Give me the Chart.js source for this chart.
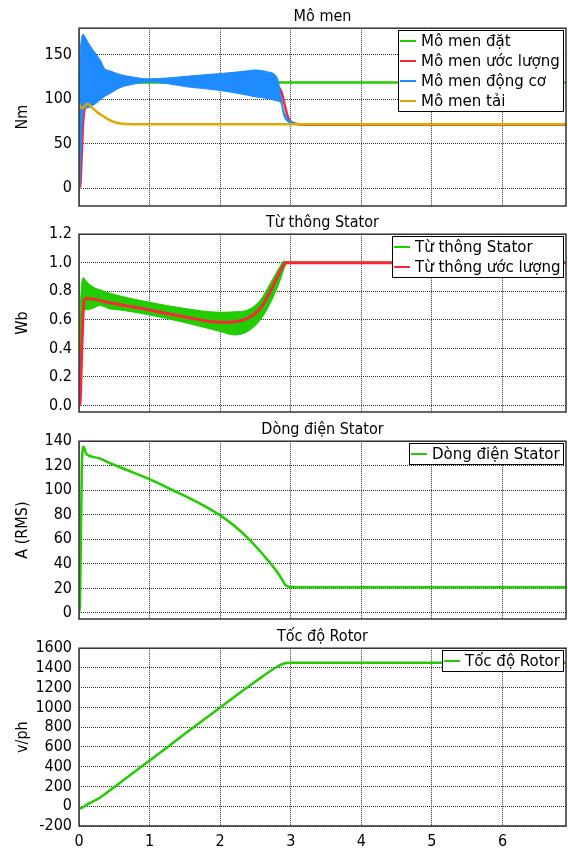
<!DOCTYPE html>
<html><head><meta charset="utf-8">
<script src="https://cdn.jsdelivr.net/npm/chart.js@4.4.1/dist/chart.umd.min.js"></script>
<style>
html,body{margin:0;padding:0;background:#fff;}
#wrap{position:relative;width:568px;height:850px;background:#fff;overflow:hidden;}
canvas{position:absolute;left:0;}
</style></head><body>
<div id="wrap">
<canvas id="c1" width="568" height="208" style="top:0px"></canvas>
<canvas id="c2" width="568" height="208" style="top:206px"></canvas>
<canvas id="c3" width="568" height="208" style="top:413px"></canvas>
<canvas id="c4" width="568" height="230" style="top:620px"></canvas>
</div>
<script>
// ---------- data ----------
const xTicks = [0, 1, 2, 3, 4, 5, 6];

// Panel 1: Mô men
const torqueTicks = [0, 50, 100, 150];
const torqueSetT = [0, 6.9];
const torqueSet = [119, 119];
const motorT     = [0, 0.01, 0.03, 0.06, 0.1, 0.16, 0.25, 0.31, 0.36, 0.44, 0.58, 0.77, 1.0, 1.25, 1.53, 2.0, 2.39, 2.48, 2.67, 2.81, 2.86, 2.9, 2.95, 3.04, 3.2, 6.9];
const motorUpper = [0, 120, 165, 173, 168, 160, 150, 143, 135, 132, 128, 125, 123, 124, 126, 129, 132, 133, 131, 124, 105, 88, 79, 74, 72.5, 72.5];
const motorLower = [0, 0, 40, 88, 90, 91.5, 96, 100, 103, 106.5, 113, 117, 119.4, 117.6, 114, 110, 104.6, 103, 101, 98, 96, 82, 75, 73, 72.5, 72.5];
const torqueEstT = [0, 0.02, 0.04, 0.06, 0.08, 0.15, 0.5, 1.0, 2.0, 2.8, 2.87, 2.92, 2.96, 3.0, 3.1, 3.3, 6.9];
const torqueEst  = [0, 5, 40, 75, 90, 110, 120, 121, 119, 115, 108, 92, 80, 75, 72, 71.3, 71.3];
const loadT = [0, 0.04, 0.08, 0.12, 0.18, 0.25, 0.32, 0.39, 0.46, 0.53, 0.67, 0.9, 6.9];
const load  = [94.5, 90, 92, 95, 91, 86, 82, 78.6, 75.8, 73.7, 72.3, 72, 72];

// Panel 2: Từ thông Stator
const fluxTicks = [0, 0.2, 0.4, 0.6, 0.8, 1.0, 1.2];
const fluxT     = [0, 0.01, 0.03, 0.06, 0.11, 0.2, 0.3, 0.44, 0.58, 1.0, 1.48, 2.0, 2.2, 2.39, 2.57, 2.71, 2.86, 2.9, 2.95, 6.9];
const fluxUpper = [0, 0.5, 0.8, 0.895, 0.867, 0.83, 0.81, 0.786, 0.767, 0.723, 0.681, 0.653, 0.656, 0.669, 0.739, 0.856, 0.984, 1.012, 1.005, 1.005];
const fluxLower = [0, 0, 0.45, 0.67, 0.67, 0.681, 0.70, 0.676, 0.669, 0.634, 0.583, 0.518, 0.494, 0.518, 0.60, 0.716, 0.89, 0.95, 0.995, 0.995];
const fluxEstT = [0, 0.015, 0.04, 0.07, 0.1, 0.2, 0.44, 1.0, 1.48, 2.0, 2.2, 2.39, 2.57, 2.71, 2.86, 2.93, 6.9];
const fluxEst  = [0, 0.02, 0.4, 0.73, 0.75, 0.745, 0.72, 0.669, 0.622, 0.583, 0.587, 0.611, 0.681, 0.80, 0.949, 1.0, 1.0];

// Panel 3: Dòng điện Stator
const currentTicks = [0, 20, 40, 60, 80, 100, 120, 140];
const currentT = [0, 0.015, 0.04, 0.065, 0.1, 0.15, 0.29, 0.44, 0.68, 1.0, 1.33, 1.6, 1.8, 2.0, 2.2, 2.4, 2.6, 2.8, 2.88, 2.92, 2.97, 3.05, 6.9];
const current  = [0, 10, 120, 135.5, 130, 128, 126, 122, 116.5, 109, 100, 92.5, 86.5, 79.5, 71, 60.5, 48, 34, 27, 23, 21.3, 20.9, 20.8];

// Panel 4: Tốc độ Rotor
const speedTicks = [-200, 0, 200, 400, 600, 800, 1000, 1200, 1400, 1600];
const speedT = [0, 0.03, 0.11, 0.29, 0.52, 1.0, 1.5, 2.0, 2.5, 2.8, 2.9, 3.0, 6.9];
const speed  = [-16, -20, 17, 84, 205, 462, 733, 1000, 1262, 1410, 1445, 1452, 1452];

// ---------- style ----------
const FONT = "'DejaVu Sans Condensed', 'DejaVu Sans', sans-serif";
const GREEN = '#22cc00', RED = '#f8283a', BLUE = '#1e8cff', GOLD = '#ddaa00';

const pts = (t, v) => t.map((x, i) => ({x, y: v[i]}));

const framePlugin = {
  id: 'frame',
  afterDatasetsDraw(chart) {
    const {ctx, chartArea: a} = chart;
    ctx.save();
    ctx.strokeStyle = '#333';
    ctx.lineWidth = 1.5;
    ctx.strokeRect(a.left, a.top, a.right - a.left, a.bottom - a.top);
    ctx.restore();
  }
};

const boxLegend = {
  id: 'boxLegend',
  afterDraw(chart, args, opts) {
    const items = opts.items;
    if (!items) return;
    const ctx = chart.ctx, a = chart.chartArea;
    ctx.save();
    ctx.font = opts.size + 'px ' + FONT;
    const tw = Math.max(...items.map(it => ctx.measureText(it.text).width));
    const w = Math.round(2 + 16 + 5 + tw + 3);
    const right = Math.round(a.right - 3);
    const left = right - w;
    const top = Math.round(a.top + 1.5);
    const h = 21 + (items.length - 1) * 20;
    ctx.fillStyle = '#fff';
    ctx.fillRect(left, top, w, h);
    ctx.strokeStyle = '#000';
    ctx.lineWidth = 1;
    ctx.strokeRect(left + 0.5, top + 0.5, w, h);
    items.forEach((it, i) => {
      const cy = top + 11 + i * 20;
      ctx.strokeStyle = it.color;
      ctx.lineWidth = 2;
      ctx.beginPath();
      ctx.moveTo(left + 2, cy);
      ctx.lineTo(left + 18, cy);
      ctx.stroke();
      ctx.fillStyle = '#000';
      ctx.textBaseline = 'middle';
      ctx.textAlign = 'left';
      ctx.fillText(it.text, left + 23, cy + 0.5);
    });
    ctx.restore();
  }
};

function makeChart(id, c) {
  const font = {family: FONT, size: 16};
  return new Chart(document.getElementById(id), {
    type: 'line',
    data: {datasets: c.datasets},
    options: {
      responsive: false,
      animation: false,
      events: [],
      layout: {padding: {left: 0, right: 2, top: 0, bottom: 0}},
      elements: {point: {radius: 0}, line: {cubicInterpolationMode: 'monotone'}},
      plugins: {
        legend: {display: false},
        tooltip: {enabled: false},
        title: {display: true, text: c.title, color: '#000', fullSize: false,
                font: {family: FONT, size: 16, weight: 'normal'}, padding: {top: 7, bottom: 2}},
        boxLegend: {items: c.legend, size: 16.7}
      },
      scales: {
        x: {
          type: 'linear', min: 0, max: 6.9,
          afterBuildTicks: s => { s.ticks = xTicks.map(v => ({value: v})); },
          afterFit: s => { s.height = c.showX ? 24 : 2; s.paddingLeft = 0; s.paddingRight = 0; },
          grid: {color: '#333', lineWidth: 1, drawTicks: false},
          border: {display: false, dash: [1, 1]},
          ticks: {display: !!c.showX, autoSkip: false, maxRotation: 0, padding: 6, font, color: '#000'}
        },
        y: {
          type: 'linear', min: c.yMin, max: c.yMax,
          afterBuildTicks: s => { s.ticks = c.yTicks.map(v => ({value: v})); },
          afterFit: s => { s.width = 79; s.paddingTop = 0; s.paddingBottom = 0; },
          grid: {color: '#333', lineWidth: 1, drawTicks: false},
          border: {display: false, dash: [1, 1]},
          ticks: {autoSkip: false, padding: 7, font, color: '#000',
                  callback: c.fmt || (v => String(v))},
          title: {display: true, text: c.yTitle, color: '#000', font, padding: {top: 13, bottom: 0}}
        }
      }
    },
    plugins: [framePlugin, boxLegend]
  });
}

const torqueNames = ['Mô men đặt', 'Mô men ước lượng', 'Mô men động cơ', 'Mô men tải'];
makeChart('c1', {
  title: 'Mô men', yTitle: 'Nm', yMin: -20, yMax: 180, yTicks: torqueTicks,
  legend: [{text: torqueNames[0], color: GREEN}, {text: torqueNames[1], color: RED},
           {text: torqueNames[2], color: BLUE}, {text: torqueNames[3], color: GOLD}],
  datasets: [
    {label: torqueNames[2], data: pts(motorT, motorUpper), borderColor: BLUE, backgroundColor: BLUE, fill: '+1', borderWidth: 1, order: 1},
    {label: torqueNames[2], data: pts(motorT, motorLower), borderColor: BLUE, borderWidth: 1, fill: false, order: 1},
    {label: torqueNames[0], data: pts(torqueSetT, torqueSet), borderColor: GREEN, borderWidth: 2.5, fill: false, order: 3},
    {label: torqueNames[1], data: pts(torqueEstT, torqueEst), borderColor: RED, borderWidth: 2.5, fill: false, order: 2},
    {label: torqueNames[3], data: pts(loadT, load), borderColor: GOLD, borderWidth: 2.5, fill: false, order: 0}
  ]
});

const fluxNames = ['Từ thông Stator', 'Từ thông ước lượng'];
makeChart('c2', {
  title: 'Từ thông Stator', yTitle: 'Wb', yMin: -0.046, yMax: 1.2, yTicks: fluxTicks,
  fmt: v => v.toFixed(1),
  legend: [{text: fluxNames[0], color: GREEN}, {text: fluxNames[1], color: RED}],
  datasets: [
    {label: fluxNames[0], data: pts(fluxT, fluxUpper), borderColor: GREEN, backgroundColor: GREEN, fill: '+1', borderWidth: 1, order: 1},
    {label: fluxNames[0], data: pts(fluxT, fluxLower), borderColor: GREEN, borderWidth: 1, fill: false, order: 1},
    {label: fluxNames[1], data: pts(fluxEstT, fluxEst), borderColor: RED, borderWidth: 3, fill: false, order: 0}
  ]
});

const currentName = 'Dòng điện Stator';
makeChart('c3', {
  title: 'Dòng điện Stator', yTitle: 'A (RMS)', yMin: -5, yMax: 140, yTicks: currentTicks,
  legend: [{text: currentName, color: GREEN}],
  datasets: [
    {label: currentName, data: pts(currentT, current), borderColor: GREEN, borderWidth: 2.5, fill: false}
  ]
});

const speedName = 'Tốc độ Rotor';
makeChart('c4', {
  title: 'Tốc độ Rotor', yTitle: 'v/ph', yMin: -200, yMax: 1600, yTicks: speedTicks, showX: true,
  legend: [{text: speedName, color: GREEN}],
  datasets: [
    {label: speedName, data: pts(speedT, speed), borderColor: GREEN, borderWidth: 2.5, fill: false}
  ]
});
</script>
</body></html>
